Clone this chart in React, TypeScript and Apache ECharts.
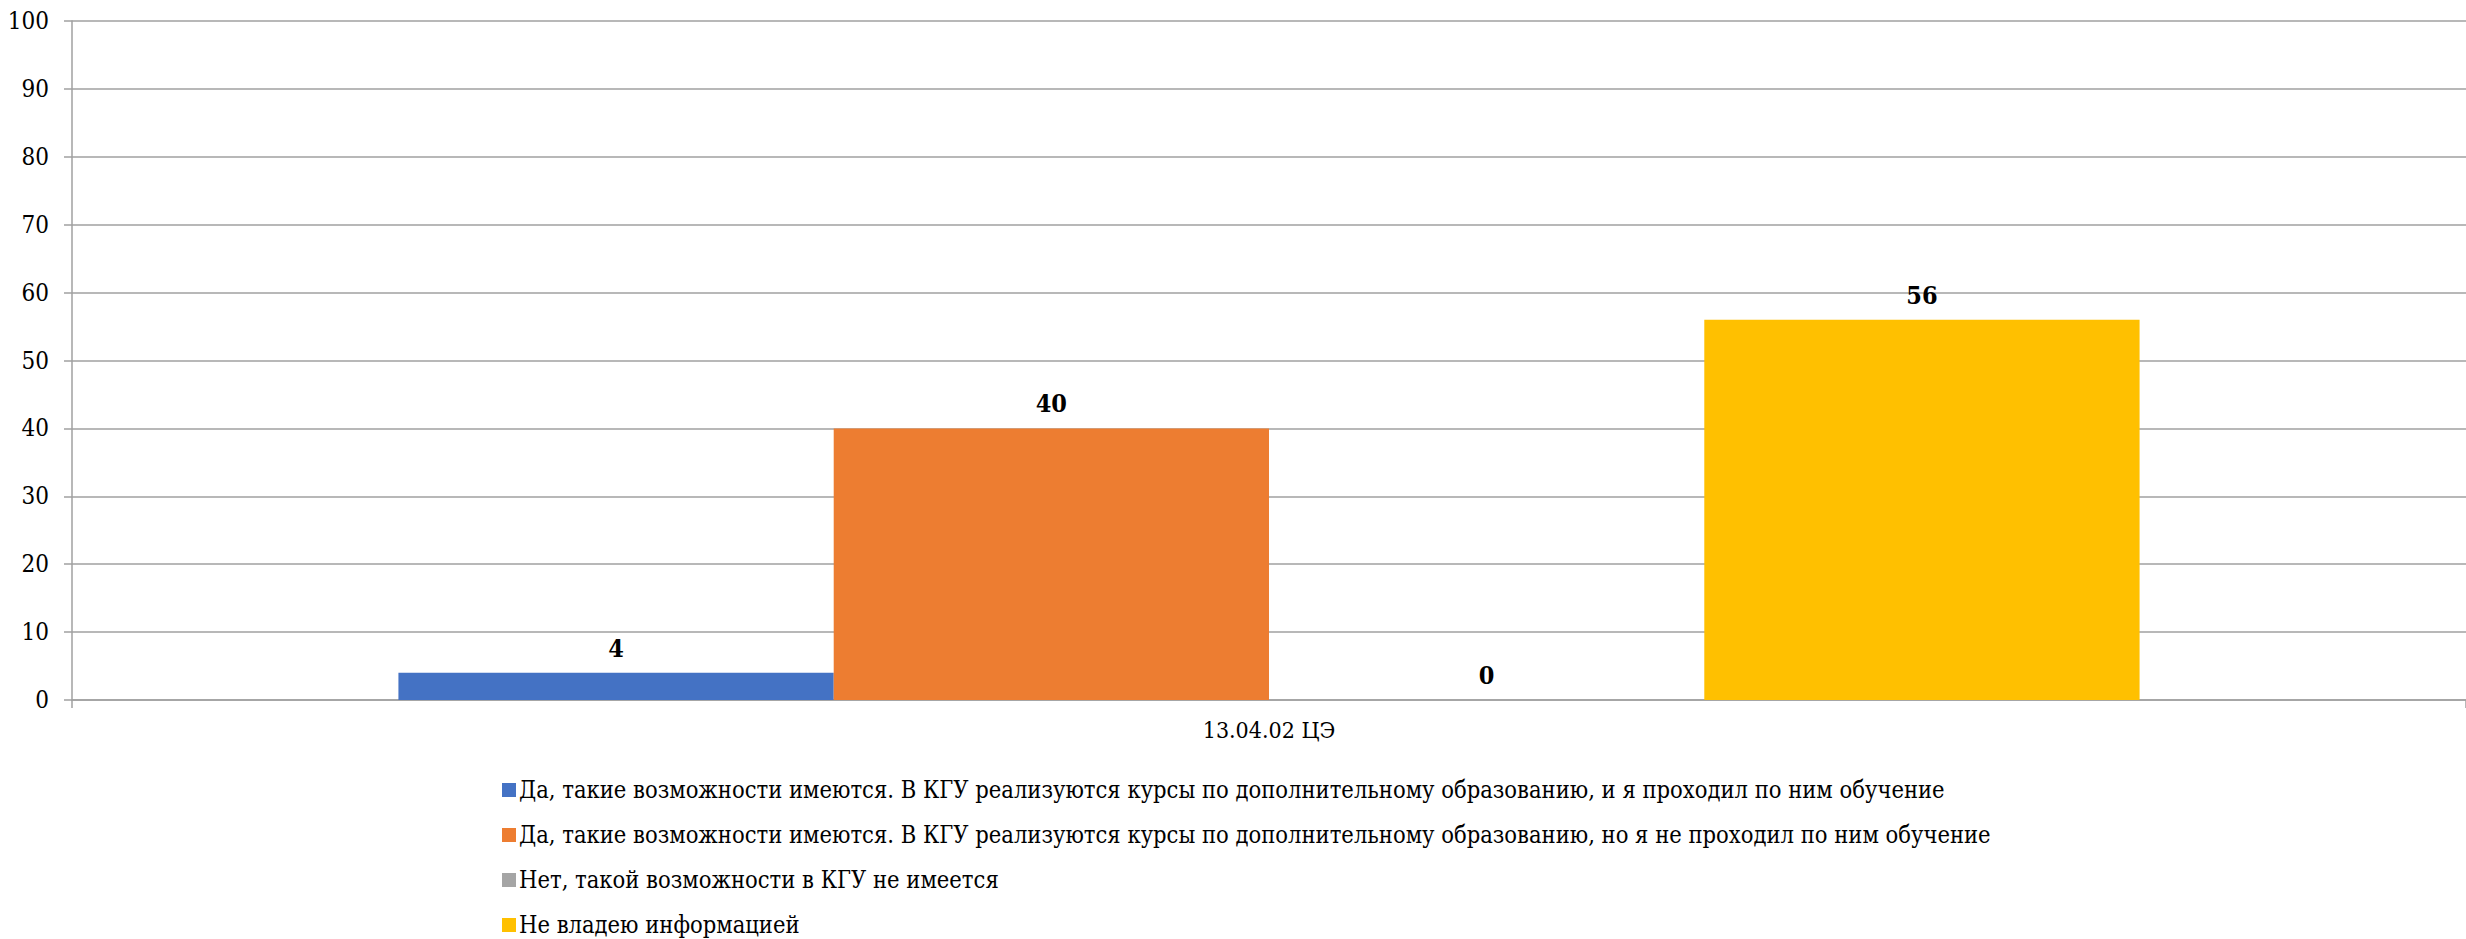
import React, { useEffect, useRef } from "react";
import * as echarts from "echarts";

const categories = ["13.04.02 ЦЭ"];
const seriesNames = [
  "Да, такие возможности имеются. В КГУ реализуются курсы по дополнительному образованию, и я проходил по ним обучение",
  "Да, такие возможности имеются. В КГУ реализуются курсы по дополнительному образованию, но я не проходил по ним обучение",
  "Нет, такой возможности в КГУ не имеется",
  "Не владею информацией",
];
const seriesValues = [[4], [40], [0], [56]];
const seriesColors = ["#4472C4", "#ED7D31", "#A5A5A5", "#FFC000"];
const yTicks = { min: 0, max: 100, interval: 10 };

const FONT = "DejaVu Serif Condensed";

export default function App() {
  const ref = useRef<HTMLDivElement>(null);
  useEffect(() => {
    document.body.style.margin = "0";
    const chart = echarts.init(ref.current!, null, { renderer: "svg" });
    chart.setOption({
      animation: false,
      backgroundColor: "#ffffff",
      textStyle: { fontFamily: FONT },
      grid: { left: 72, right: -18, top: 21, bottom: 239, containLabel: false },
      legend: {
        orient: "vertical",
        left: 497,
        top: 770,
        height: 400,
        itemWidth: 14,
        itemHeight: 14,
        itemGap: 15,
        icon: "rect",
        textStyle: { fontFamily: FONT, fontSize: 23.5, color: "#000", lineHeight: 30, padding: [0, 0, 0, -2] },
        data: seriesNames,
      },
      xAxis: {
        type: "category",
        data: categories,
        axisLine: { show: true, lineStyle: { color: "#a0a0a0", width: 1.5 } },
        axisTick: { show: true, length: 8, lineStyle: { color: "#a0a0a0", width: 1.5 } },
        axisLabel: { fontFamily: FONT, fontSize: 23, color: "#000", margin: 18 },
      },
      yAxis: {
        type: "value",
        min: yTicks.min,
        max: yTicks.max,
        interval: yTicks.interval,
        axisLine: { show: true, lineStyle: { color: "#a0a0a0", width: 1.5 } },
        axisTick: { show: true, length: 8, lineStyle: { color: "#a0a0a0", width: 1.5 } },
        splitLine: { show: true, lineStyle: { color: "#a0a0a0", width: 1.5 } },
        axisLabel: { fontFamily: FONT, fontSize: 24, color: "#000", margin: 23 },
      },
      series: seriesNames.map((name, i) => ({
        name,
        type: "bar",
        data: seriesValues[i],
        itemStyle: { color: seriesColors[i] },
        barGap: "0%",
        barCategoryGap: "27.27%",
        label: {
          show: true,
          position: "top",
          distance: 12,
          fontFamily: FONT,
          fontSize: 25,
          fontWeight: "bold",
          color: "#000",
        },
      })),
    });
    return () => chart.dispose();
  }, []);
  return <div ref={ref} style={{ width: 2466, height: 939 }} />;
}
